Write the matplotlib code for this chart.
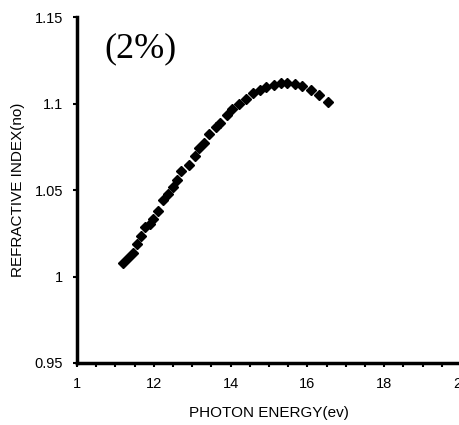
import matplotlib.pyplot as plt
from matplotlib.ticker import MultipleLocator

# photon energy (eV) and refractive index
energy = [11.21, 11.32, 11.45, 11.56, 11.66, 11.76, 11.89, 11.98, 12.11, 12.23,
          12.37, 12.50, 12.61, 12.72, 12.91, 13.07, 13.17, 13.30, 13.43, 13.61,
          13.72, 13.90, 14.04, 14.22, 14.41, 14.59, 14.77, 14.93, 15.12, 15.31,
          15.48, 15.68, 15.87, 16.09, 16.31, 16.53]
n_index = [1.0079, 1.0108, 1.0135, 1.0189, 1.0237, 1.0285, 1.0305, 1.0334, 1.0378, 1.0440,
           1.0475, 1.0517, 1.0560, 1.0610, 1.0646, 1.0697, 1.0745, 1.0774, 1.0826, 1.0865,
           1.0888, 1.0932, 1.0971, 1.1000, 1.1029, 1.1058, 1.1081, 1.1096, 1.1110, 1.1119,
           1.1119, 1.1112, 1.1100, 1.1077, 1.1048, 1.1009]

x_ticks = [10, 12, 14, 16, 18, 20]
x_labels = ['1', '12', '14', '16', '18', '20']
y_ticks = [0.95, 1.0, 1.05, 1.1, 1.15]
y_labels = ['0.95', '1', '1.05', '1.1', '1.15']

plt.rcParams['font.family'] = ['Liberation Sans', 'DejaVu Sans']

fig = plt.figure(figsize=(4.6, 4.25), dpi=100)
ax = fig.add_axes([0.1674, 0.1459, 0.835, 0.814])

ax.plot(energy, n_index, linestyle='none', marker='D', markersize=5.5,
        color='black', markeredgecolor='black')

ax.set_xlim(10, 20)
ax.set_ylim(0.95, 1.15)
ax.set_xticks(x_ticks)
ax.set_xticklabels(x_labels)
ax.set_yticks(y_ticks)
ax.set_yticklabels(y_labels)
ax.xaxis.set_minor_locator(MultipleLocator(0.5))
ax.yaxis.set_minor_locator(MultipleLocator(0.025))

for side in ['top', 'right']:
    ax.spines[side].set_visible(False)
for side in ['left', 'bottom']:
    ax.spines[side].set_linewidth(2.5)

ax.tick_params(axis='both', which='major', direction='out', length=3, width=1.5,
               labelsize=10.5, colors='black', pad=7)
ax.tick_params(axis='x', which='minor', direction='out', length=3, width=1.5)
ax.tick_params(axis='y', which='minor', direction='in', length=2, width=1, color='white')

ax.set_xlabel('PHOTON ENERGY(ev)', fontsize=11, labelpad=11)
ax.set_ylabel('REFRACTIVE INDEX(no)', fontsize=11, labelpad=7)

ax.text(0.165, 0.955, '(2%)', transform=ax.transAxes, ha='center', va='top',
        fontsize=26, family=['Liberation Serif', 'DejaVu Serif'])

fig.savefig('out.png', dpi=100)
